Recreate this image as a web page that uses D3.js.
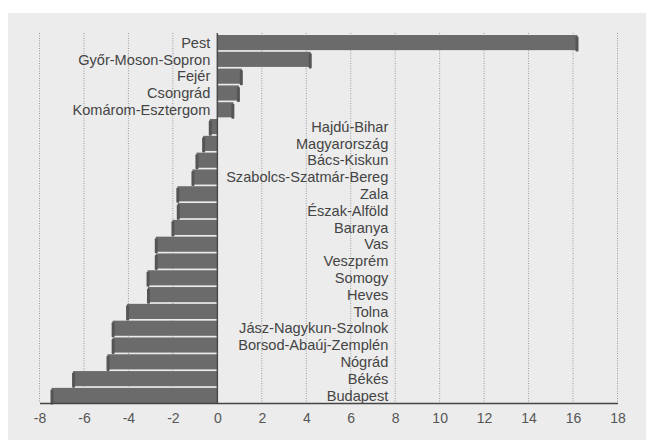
<!DOCTYPE html>
<html>
<head>
<meta charset="utf-8">
<script src="https://cdn.jsdelivr.net/npm/d3@7"></script>
<style>
	html, body { margin: 0; padding: 0; background: #fff; }
	#chart { width: 646px; height: 440px; }
	svg text { font-family: "Liberation Sans", Arial, sans-serif; }
</style>
</head>
<body>
<div id="chart"></div>
<script>
(function (d3) {
	'use strict';

	// data, top to bottom
	const regions = ["Pest", "Győr-Moson-Sopron", "Fejér", "Csongrád", "Komárom-Esztergom",
		"Hajdú-Bihar", "Magyarország", "Bács-Kiskun", "Szabolcs-Szatmár-Bereg", "Zala",
		"Észak-Alföld", "Baranya", "Vas", "Veszprém", "Somogy", "Heves", "Tolna",
		"Jász-Nagykun-Szolnok", "Borsod-Abaúj-Zemplén", "Nógrád", "Békés", "Budapest"];
	const changes = [16.2, 4.2, 1.1, 0.97, 0.72,
		-0.34, -0.64, -0.94, -1.12, -1.8,
		-1.78, -2.02, -2.77, -2.77, -3.14, -3.12, -4.06,
		-4.71, -4.71, -4.94, -6.49, -7.46];
	const xTicks = [-8, -6, -4, -2, 0, 2, 4, 6, 8, 10, 12, 14, 16, 18];

	const data = regions.map((r, i) => ({ name: r, value: changes[i] }));

	const width = 646, height = 440;
	const svg = d3.select("#chart").append("svg")
		.attr("width", width).attr("height", height);

	// grey panel
	svg.append("rect")
		.attr("x", 8).attr("y", 13)
		.attr("width", width - 8).attr("height", height - 13)
		.attr("fill", "#ececec");

	const plot = { left: 39.5, right: 617.5, top: 35, bottom: 403 };

	const xScale = d3.scaleLinear()
		.domain([-8, 18])
		.range([plot.left, plot.right]);
	const yScale = d3.scaleBand()
		.domain(regions)
		.range([plot.top, plot.bottom])
		.paddingInner(0.1);

	const g = svg.append("g");

	// dotted grid
	g.selectAll(".grid").data(xTicks.filter(t => t !== 0))
		.enter().append("line")
		.attr("class", "grid")
		.attr("x1", d => xScale(d)).attr("x2", d => xScale(d))
		.attr("y1", plot.top - 2).attr("y2", plot.bottom)
		.attr("stroke", "#9a9a9a")
		.attr("stroke-width", 1)
		.attr("stroke-dasharray", "1,1.5");

	// bars
	const x0 = xScale(0);
	const bars = g.selectAll(".bar").data(data).enter().append("g").attr("class", "bar");
	bars.append("rect")
		.attr("x", d => Math.min(x0, xScale(d.value)))
		.attr("y", d => yScale(d.name))
		.attr("width", d => Math.abs(xScale(d.value) - x0))
		.attr("height", yScale.bandwidth())
		.attr("fill", "#6b6b6b");
	// darker end caps
	bars.append("rect")
		.attr("x", d => d.value > 0 ? xScale(d.value) - 2 : xScale(d.value) - 1)
		.attr("y", d => yScale(d.name) + 1.5)
		.attr("width", 3)
		.attr("height", yScale.bandwidth())
		.attr("rx", 1)
		.attr("fill", "#555");

	// zero line
	g.append("line")
		.attr("x1", x0).attr("x2", x0)
		.attr("y1", plot.top - 2).attr("y2", plot.bottom)
		.attr("stroke", "#4a4a4a").attr("stroke-width", 1.5);

	// x axis
	const xAxis = d3.axisBottom(xScale).tickValues(xTicks)
		.tickFormat(d => String(d)).tickSize(0).tickPadding(10);
	const xAxisG = g.append("g")
		.attr("transform", `translate(0,${plot.bottom})`)
		.call(xAxis)
		.attr("font-family", null).attr("font-size", null);
	xAxisG.select(".domain").attr("stroke", "#444").attr("stroke-width", 1.5);
	xAxisG.selectAll("text")
		.attr("fill", "#555")
		.style("font-size", "14px");

	// category labels
	g.selectAll(".label").data(data).enter().append("text")
		.attr("class", "label")
		.attr("x", d => d.value > 0 ? x0 - 7 : x0 + 171)
		.attr("y", d => yScale(d.name) + yScale.bandwidth() / 2)
		.attr("dy", "0.36em")
		.attr("text-anchor", "end")
		.attr("fill", "#444")
		.style("font-size", "14.6px")
		.text(d => d.name);
}(d3));
</script>
</body>
</html>
